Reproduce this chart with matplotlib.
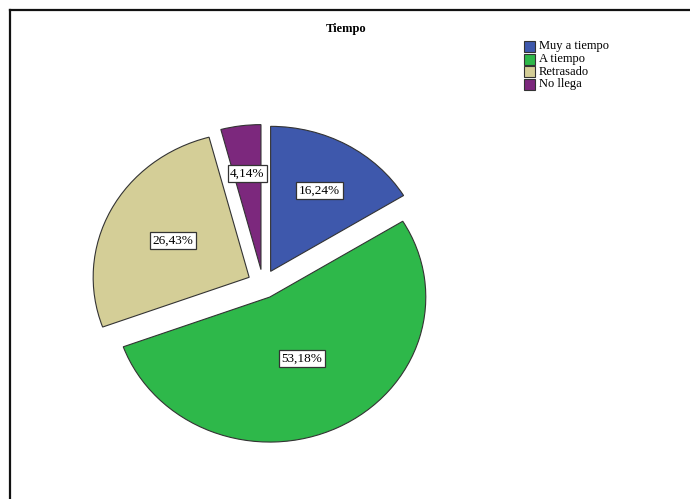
import matplotlib.pyplot as plt
from matplotlib.patches import Rectangle
from matplotlib.lines import Line2D
import numpy as np

# Datos ##########################################################################

categorias = ["Muy a tiempo", "A tiempo", "Retrasado", "No llega"]
porcentajes = [16.24, 53.18, 26.43, 4.14]
colores = ["#3e58ac", "#2eb84a", "#d4ce97", "#7c287d"]

# distancia radial de cada etiqueta (fraccion del radio)
radio_etiqueta = [0.64, 0.47, 0.55, 0.67]

plt.rcParams["font.family"] = ["Liberation Serif", "DejaVu Serif"]

W, H = 690, 499
fig = plt.figure(figsize=(W / 100, H / 100), dpi=100)

# Marco del grafico (solo se ven borde superior e izquierdo)
fig.add_artist(Line2D([10 / W, 10 / W], [0, 1 - 10 / H], color="#111111", lw=1.6))
fig.add_artist(Line2D([10 / W, 1], [1 - 10 / H, 1 - 10 / H], color="#111111", lw=1.6))

fig.text(346 / W, 1 - 29 / H, "Tiempo", ha="center", va="center",
         fontsize=9, fontweight="bold")

# Pastel (un poco achatado en vertical)
cx, cy, rx, ry = 263, 284, 156, 145
ax = fig.add_axes([(cx - 1.25 * rx) / W, (H - cy - 1.25 * ry) / H,
                   2.5 * rx / W, 2.5 * ry / H])
wedges, _ = ax.pie(porcentajes, colors=colores, startangle=90, counterclock=False,
                   explode=[0.1] * len(porcentajes),
                   wedgeprops=dict(edgecolor="#333333", linewidth=0.8))
ax.set_aspect("auto")
ax.set_xlim(-1.25, 1.25)
ax.set_ylim(-1.25, 1.25)
ax.axis("off")

for w, p, r in zip(wedges, porcentajes, radio_etiqueta):
    ang = np.deg2rad((w.theta1 + w.theta2) / 2)
    x0, y0 = w.center
    ax.text(x0 + r * np.cos(ang), y0 + r * np.sin(ang),
            f"{p:.2f}%".replace(".", ","), ha="center", va="center", fontsize=9.5,
            bbox=dict(boxstyle="square,pad=0.2", fc="white", ec="#333333", lw=0.9))

# Leyenda
for i, (cat, col) in enumerate(zip(categorias, colores)):
    y = 41 + i * 12.6
    fig.add_artist(Rectangle((524 / W, 1 - (y + 11) / H), 11 / W, 11 / H,
                             transform=fig.transFigure, fc=col, ec="#333333", lw=0.8))
    fig.text(539 / W, 1 - (y + 5.5) / H, cat, ha="left", va="center", fontsize=9)

plt.savefig("out.png", dpi=100)
